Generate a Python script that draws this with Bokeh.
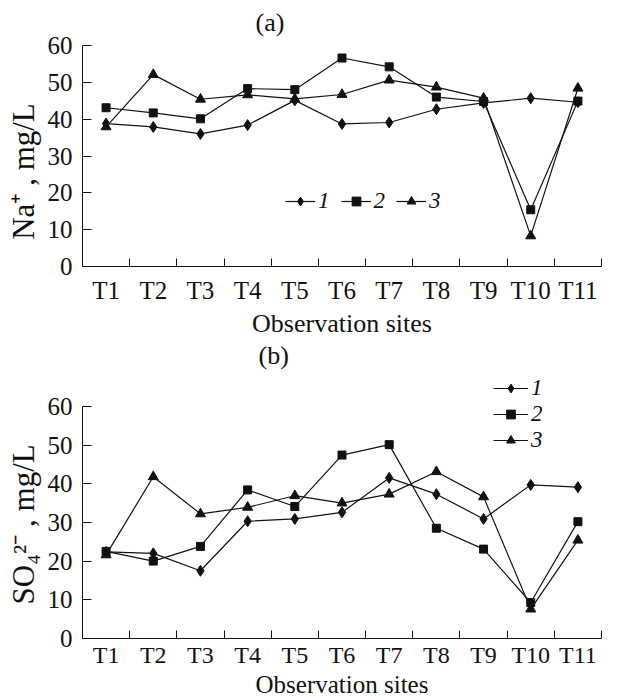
from bokeh.plotting import figure
from bokeh.models import Range1d, FixedTicker, Legend, LegendItem
from bokeh.layouts import column
from bokeh.embed import file_html
from bokeh.resources import INLINE

# ---------------- data ----------------
sites = ["T1", "T2", "T3", "T4", "T5", "T6", "T7", "T8", "T9", "T10", "T11"]
series_names = ["1", "2", "3"]

na_1 = [38.8, 37.9, 36.0, 38.4, 45.1, 38.7, 39.1, 42.7, 44.4, 45.7, 44.6]
na_2 = [43.1, 41.7, 40.1, 48.3, 48.0, 56.6, 54.2, 46.0, 44.8, 15.4, 44.9]
na_3 = [37.9, 52.1, 45.4, 46.6, 45.5, 46.7, 50.6, 48.7, 45.7, 8.3, 48.4]

so4_1 = [22.4, 22.0, 17.5, 30.3, 30.9, 32.6, 41.5, 37.3, 30.9, 39.7, 39.1]
so4_2 = [22.5, 20.0, 23.8, 38.4, 34.1, 47.4, 50.1, 28.5, 23.1, 9.3, 30.2]
so4_3 = [21.6, 41.8, 32.2, 33.9, 36.9, 35.0, 37.3, 43.1, 36.6, 7.6, 25.4]

y_ticks = [0, 10, 20, 30, 40, 50, 60]

FONT = "Liberation Serif"
INK = "#111111"
markers = ["diamond", "square", "triangle"]
msizes = [11, 8, 10]

centers = [i + 0.5 for i in range(len(sites))]
bounds = [i + 1 for i in range(len(sites))]
NB = "\u00a0"


def make_panel(title, ylabel, series, width, height, borders, y_top, title_offset,
               title_standoff, legend_loc, legend_orient, glyph_w, legend_spacing,
               xfonts, xstand):
    bl, br, bt, bb = borders
    p = figure(width=width, height=height, output_backend="svg", toolbar_location=None,
               x_range=Range1d(0, len(sites)), y_range=Range1d(y_ticks[0], y_top),
               min_border_left=bl, min_border_right=br, min_border_top=bt,
               min_border_bottom=bb)
    p.outline_line_color = None
    p.background_fill_color = "white"
    p.border_fill_color = "white"
    p.grid.visible = False

    p.title.text = title
    p.title.align = "left"
    p.title.vertical_align = "top"
    p.title.offset = title_offset
    p.title.standoff = title_standoff
    p.title.text_font = FONT
    p.title.text_font_size = "26px"
    p.title.text_font_style = "normal"
    p.title.text_color = INK

    xa = p.xaxis[0]
    xa.ticker = FixedTicker(ticks=centers, minor_ticks=bounds)
    xa.major_label_overrides = {c: s for c, s in zip(centers, sites)}
    xa.major_tick_in = 0
    xa.major_tick_out = 0
    xa.minor_tick_in = 8
    xa.minor_tick_out = 0
    xa.minor_tick_line_color = INK
    xa.axis_line_color = INK
    xa.major_label_standoff = xstand[0]
    xa.major_label_text_font = FONT
    xa.major_label_text_font_size = xfonts[0]
    xa.major_label_text_color = INK
    xa.axis_label = "Observation sites"
    xa.axis_label_text_font = FONT
    xa.axis_label_text_font_size = xfonts[1]
    xa.axis_label_text_font_style = "normal"
    xa.axis_label_text_color = INK
    xa.axis_label_standoff = xstand[1]

    ya = p.yaxis[0]
    ya.ticker = FixedTicker(ticks=y_ticks, minor_ticks=[])
    ya.bounds = (y_ticks[0], y_ticks[-1])
    ya.major_tick_in = 9
    ya.major_tick_out = 0
    ya.minor_tick_line_color = None
    ya.axis_line_color = INK
    ya.major_tick_line_color = INK
    ya.major_label_standoff = 10
    ya.major_label_text_font = FONT
    ya.major_label_text_font_size = "25px"
    ya.major_label_text_color = INK
    ya.axis_label = ylabel
    ya.axis_label_text_font = FONT
    ya.axis_label_text_font_size = "31px"
    ya.axis_label_text_font_style = "normal"
    ya.axis_label_text_color = INK
    ya.axis_label_standoff = 4

    items = []
    for name, vals, mk, ms in zip(series_names, series, markers, msizes):
        lr = p.line(centers, vals, line_color=INK, line_width=1.2)
        sr = p.scatter(centers, vals, marker=mk, size=ms, fill_color=INK, line_color=INK)
        items.append(LegendItem(label=name, renderers=[lr, sr]))

    leg = Legend(items=items, location=legend_loc, orientation=legend_orient,
                 glyph_width=glyph_w, glyph_height=22, label_height=20, label_width=10,
                 label_standoff=3, spacing=legend_spacing, padding=0, margin=0,
                 border_line_color=None, background_fill_alpha=0,
                 label_text_font=FONT, label_text_font_size="23px",
                 label_text_font_style="italic", label_text_color=INK)
    p.add_layout(leg, "center")
    return p


pa = make_panel("(a)", "Na\u207a , mg/L" + NB * 4, [na_1, na_2, na_3], 618, 340,
                (82, 2, 44, 72), 60, 173, 14, (203, 52), "horizontal", 30, 11,
                ("25px", "26px"), (10, 2))
pb = make_panel("(b)", "SO\u2084\u00b2\u207b , mg/L" + NB * 5, [so4_1, so4_2, so4_3], 618, 360,
                (81, 17, 30, 62), 69, 176, 0, (411, 185), "vertical", 35, 0,
                ("24px", "25px"), (3, 0))

layout = column(pa, pb, spacing=0)
open("out.html", "w").write(file_html(layout, INLINE))
